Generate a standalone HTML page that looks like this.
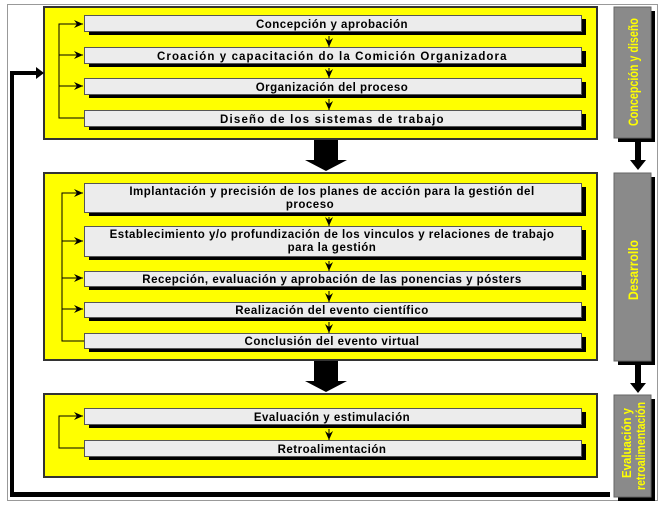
<!DOCTYPE html>
<html><head><meta charset="utf-8"><style>
body{margin:0;background:#fff;}
svg{display:block;font-family:"Liberation Sans",Arial,sans-serif;font-weight:bold;}
</style></head><body>
<svg width="667" height="506" viewBox="0 0 667 506" xmlns="http://www.w3.org/2000/svg">
<defs>
<marker id="ah" markerWidth="10" markerHeight="8" refX="9" refY="4" orient="auto" markerUnits="userSpaceOnUse">
<path d="M0,0 L9,4 L0,8 L3,4 Z" fill="#000"/></marker>
</defs>
<rect x="7.5" y="4.5" width="650" height="496" fill="#fff" stroke="#999" stroke-width="1"/>
<rect x="44" y="7" width="553" height="132" fill="#ffff00" stroke="#333" stroke-width="2"/>
<rect x="44" y="173" width="553" height="187" fill="#ffff00" stroke="#333" stroke-width="2"/>
<rect x="44" y="394" width="553" height="83" fill="#ffff00" stroke="#333" stroke-width="2"/>
<path d="M12,497 V73 H36" stroke="#000" stroke-width="4" fill="none"/>
<path d="M36,67 L44,73 L36,79 Z" fill="#000"/>
<rect x="10" y="492" width="600" height="5" fill="#000"/>
<path d="M314,140 H338 V160 H347 L326,171 L305,160 H314 Z" fill="#000"/>
<path d="M314,361 H338 V381 H347 L326,392 L305,381 H314 Z" fill="#000"/>
<g fill="#000"><rect x="618" y="11" width="37" height="131"/><rect x="618" y="177" width="37" height="188"/><rect x="618" y="399" width="37" height="102"/></g>
<g fill="#8a8a8a" stroke="#666"><rect x="614" y="7" width="37" height="131"/><rect x="614" y="173" width="37" height="188"/><rect x="614" y="395" width="37" height="102"/></g>
<path d="M635,142 H641 V160 H646 L638,170 L630,160 H635 Z" fill="#000"/>
<path d="M635,365 H641 V383 H646 L638,393 L630,383 H635 Z" fill="#000"/>
<g fill="#ffff00" font-size="14" font-weight="bold" text-anchor="middle">
<text transform="translate(638,72) rotate(-90)" textLength="108" lengthAdjust="spacingAndGlyphs">Concepción y diseño</text>
<text transform="translate(638,270) rotate(-90)" textLength="60" lengthAdjust="spacingAndGlyphs">Desarrollo</text>
<text transform="translate(631,443) rotate(-90)" font-size="13" textLength="70" lengthAdjust="spacingAndGlyphs">Evaluación y</text>
<text transform="translate(645,446) rotate(-90)" font-size="13" textLength="88" lengthAdjust="spacingAndGlyphs">retroalimentación</text>
</g>
<g fill="#000">
<rect x="89" y="19" width="497" height="16"/><rect x="89" y="51" width="497" height="16"/><rect x="89" y="82" width="497" height="16"/><rect x="89" y="114" width="497" height="16"/>
<rect x="89" y="187" width="497" height="29"/><rect x="89" y="230" width="497" height="30"/><rect x="89" y="275" width="497" height="15"/><rect x="89" y="306" width="497" height="15"/><rect x="89" y="337" width="497" height="15"/>
<rect x="89" y="412" width="497" height="16"/><rect x="89" y="444" width="497" height="16"/>
</g>
<g fill="#ececec" stroke="#555" stroke-width="1">
<rect x="84.5" y="15.5" width="497" height="16"/><rect x="84.5" y="47.5" width="497" height="16"/><rect x="84.5" y="78.5" width="497" height="16"/><rect x="84.5" y="110.5" width="497" height="16"/>
<rect x="84.5" y="183.5" width="497" height="29"/><rect x="84.5" y="226.5" width="497" height="30"/><rect x="84.5" y="271.5" width="497" height="15"/><rect x="84.5" y="302.5" width="497" height="15"/><rect x="84.5" y="333.5" width="497" height="15"/>
<rect x="84.5" y="408.5" width="497" height="16"/><rect x="84.5" y="440.5" width="497" height="16"/>
</g>
<g stroke="#000" stroke-width="1" fill="none">
<path d="M84,118 H59 V24 H83" marker-end="url(#ah)"/>
<path d="M59,55 H83" marker-end="url(#ah)"/>
<path d="M59,86 H83" marker-end="url(#ah)"/>
<path d="M84,341 H62 V193 H83" marker-end="url(#ah)"/>
<path d="M62,241 H83" marker-end="url(#ah)"/>
<path d="M62,278 H83" marker-end="url(#ah)"/>
<path d="M62,309 H83" marker-end="url(#ah)"/>
<path d="M84,448 H59 V416 H83" marker-end="url(#ah)"/>
</g>
<g stroke="#000" stroke-width="1" fill="none">
<path d="M329,36 V47" marker-end="url(#ah)"/>
<path d="M329,68 V78" marker-end="url(#ah)"/>
<path d="M329,99 V110" marker-end="url(#ah)"/>
<path d="M329,217 V226" marker-end="url(#ah)"/>
<path d="M329,261 V271" marker-end="url(#ah)"/>
<path d="M329,291 V302" marker-end="url(#ah)"/>
<path d="M329,322 V333" marker-end="url(#ah)"/>
<path d="M329,429 V440" marker-end="url(#ah)"/>
</g>
<g font-size="11.5" fill="#000" text-anchor="middle" letter-spacing="0.5">
<text x="332" y="28">Concepción y aprobación</text>
<text x="332" y="60" textLength="350">Croación y capacitación do la Comición Organizadora</text>
<text x="332" y="91">Organización del proceso</text>
<text x="332" y="123" textLength="224">Diseño de los sistemas de trabajo</text>
<text x="332" y="195">Implantación y precisión de los planes de acción para la gestión del</text>
<text x="310" y="208">proceso</text>
<text x="332" y="238">Establecimiento y/o profundización de los vinculos y relaciones de trabajo</text>
<text x="332" y="251">para la gestión</text>
<text x="332" y="283">Recepción, evaluación y aprobación de las ponencias y pósters</text>
<text x="332" y="314">Realización del evento científico</text>
<text x="332" y="345">Conclusión del evento virtual</text>
<text x="332" y="421">Evaluación y estimulación</text>
<text x="332" y="453">Retroalimentación</text>
</g>
</svg>
</body></html>
